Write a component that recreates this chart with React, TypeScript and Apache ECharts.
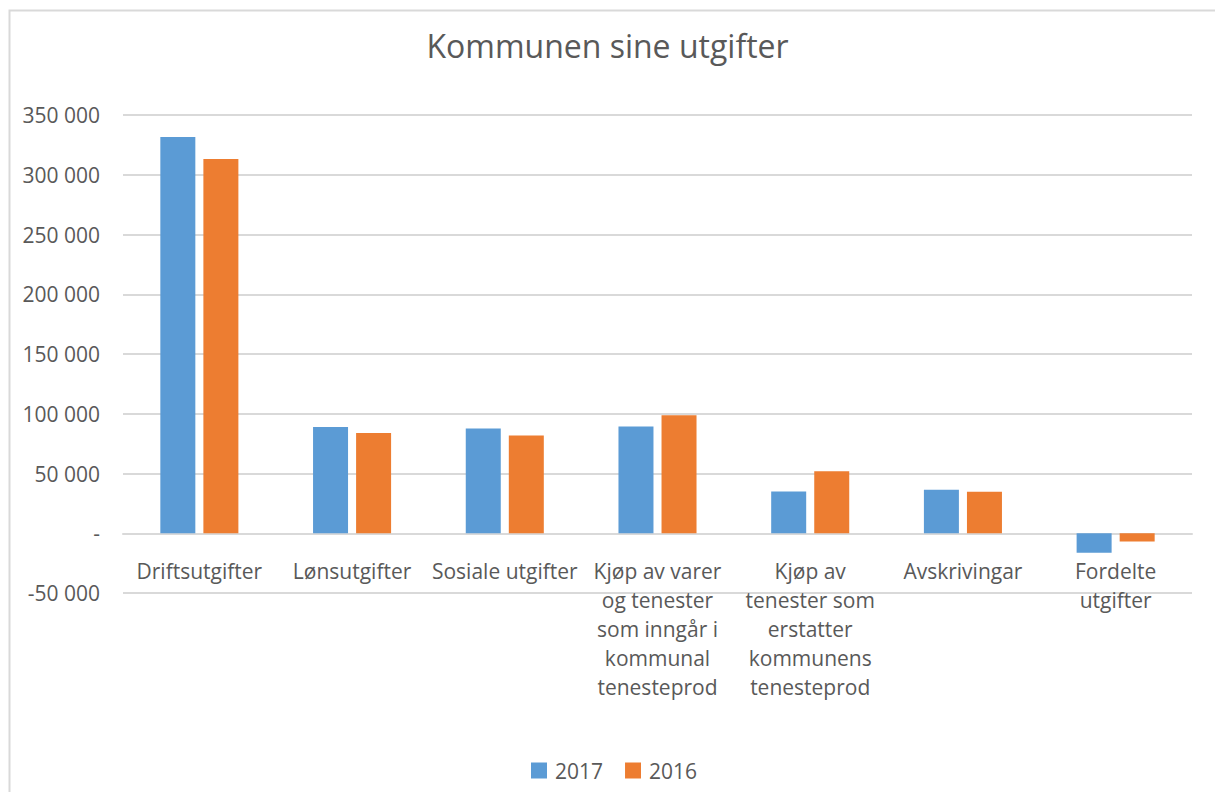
import React, { useEffect, useRef } from "react";
import * as echarts from "echarts";

const categories = [
  "Driftsutgifter",
  "Lønsutgifter",
  "Sosiale utgifter",
  "Kjøp av varer\nog tenester\nsom inngår i\nkommunal\ntenesteprod",
  "Kjøp av\ntenester som\nerstatter\nkommunens\ntenesteprod",
  "Avskrivingar",
  "Fordelte\nutgifter",
];
const values2017 = [331600, 88900, 87600, 89300, 35000, 36400, -16300];
const values2016 = [313200, 83800, 81800, 98800, 51800, 34700, -7000];
const seriesNames = ["2017", "2016"];

const FONT = "Open Sans";
const TEXT = "#595959";
const GRID = "#d9d9d9";

function fmt(v: number): string {
  if (v === 0) return "-";
  const neg = v < 0;
  const s = String(Math.abs(v)).replace(/\B(?=(\d{3})+(?!\d))/g, " ");
  return (neg ? "-" : "") + s;
}

export default function App() {
  const ref = useRef<HTMLDivElement>(null);
  useEffect(() => {
    if (!ref.current) return;
    const chart = echarts.init(ref.current, null, { renderer: "svg" });
    chart.setOption({
      animation: false,
      backgroundColor: "#ffffff",
      textStyle: { fontFamily: FONT },
      title: {
        text: "Kommunen sine utgifter",
        left: "center",
        top: 24,
        textStyle: { fontFamily: FONT, fontSize: 32, fontWeight: "normal", color: TEXT },
      },
      legend: {
        bottom: 6,
        left: 526,
        itemWidth: 16,
        itemHeight: 16,
        itemGap: 22,
        icon: "rect",
        textStyle: { fontFamily: FONT, fontSize: 21, color: TEXT, padding: [0, 0, 0, 3] },
        data: seriesNames,
      },
      graphic: [
        {
          type: "rect",
          shape: { x: 9.5, y: 10.5, width: 1400, height: 1000 },
          style: { fill: "none", stroke: GRID, lineWidth: 2 },
          silent: true,
        },
      ],
      grid: { left: 123, right: 23, top: 115, bottom: 199, containLabel: false },
      xAxis: {
        type: "category",
        data: categories,
        axisLine: { onZero: true, lineStyle: { color: GRID, width: 2 } },
        axisTick: { show: false },
        axisLabel: {
          interval: 0,
          margin: -37,
          fontFamily: FONT,
          fontSize: 21,
          color: TEXT,
          lineHeight: 29,
        },
      },
      yAxis: {
        type: "value",
        min: -50000,
        max: 350000,
        interval: 50000,
        axisLine: { show: false },
        axisTick: { show: false },
        splitLine: { lineStyle: { color: GRID, width: 2 } },
        axisLabel: {
          margin: 23,
          fontFamily: FONT,
          fontSize: 21,
          color: TEXT,
          formatter: (v: number) => fmt(v),
        },
      },
      series: [
        {
          name: seriesNames[0],
          type: "bar",
          data: values2017,
          barWidth: 35,
          barGap: "23%",
          itemStyle: { color: "#5b9bd5" },
        },
        {
          name: seriesNames[1],
          type: "bar",
          data: values2016,
          barWidth: 35,
          barGap: "23%",
          itemStyle: { color: "#ed7d31" },
        },
      ],
    });
    return () => chart.dispose();
  }, []);
  return (
    <div
      ref={ref}
      style={{ position: "absolute", left: 0, top: 0, width: 1215, height: 792 }}
    />
  );
}
